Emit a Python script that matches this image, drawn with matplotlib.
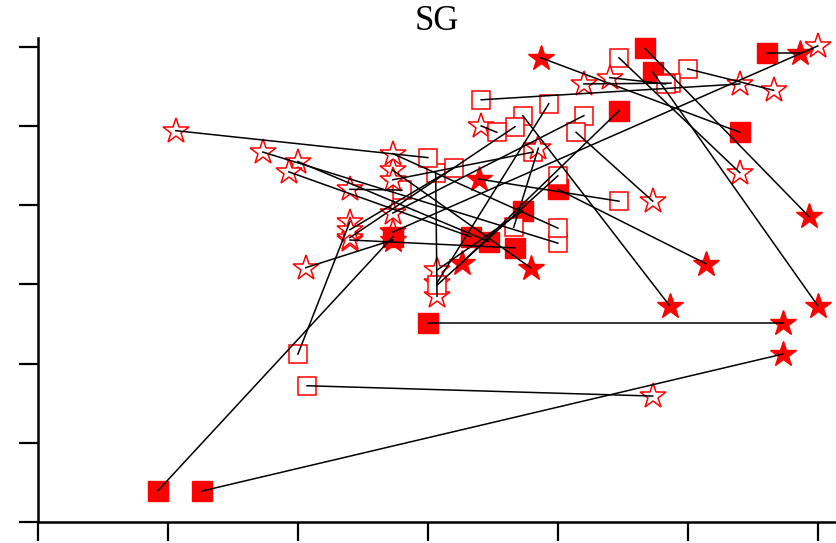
import matplotlib
matplotlib.use("Agg")
import matplotlib.pyplot as plt

# Each segment joins a start state to an end state.
# Kinds: "fs" filled square, "os" open square, "ft" filled star, "ot" open star
x_start = [0.92, 1.26, 2.07, 3.00, 2.00, 2.06, 1.06, 1.73, 2.00, 1.93,
           2.73, 2.40, 2.73, 2.40, 4.20, 2.73, 3.41, 5.00, 3.87, 4.47,
           4.67, 4.73, 3.73, 4.00, 4.14, 3.39, 4.47, 3.93, 3.06, 3.73,
           3.41, 5.61, 4.20, 4.40, 3.67, 3.81, 4.00, 3.20, 3.85]
y_start = [0.39, 0.39, 1.72, 2.51, 2.12, 3.21, 4.94, 4.67, 4.55, 4.42,
           4.44, 4.20, 4.65, 3.56, 5.13, 3.66, 5.33, 5.72, 5.86, 5.86,
           5.98, 5.68, 5.13, 4.20, 4.92, 4.33, 5.19, 5.28, 4.41, 3.93,
           5.00, 5.92, 5.53, 5.61, 4.99, 4.67, 4.37, 4.47, 4.72]
kind_start = ["fs", "fs", "os", "fs", "os", "ot", "ot", "ot", "ot", "ot",
              "ot", "ot", "ot", "ot", "os", "ot", "os", "os", "ft", "os",
              "fs", "fs", "os", "fs", "os", "ft", "fs", "os", "os", "fs",
              "ot", "fs", "ot", "ot", "os", "os", "os", "os", "ot"]

x_end = [2.73, 5.73, 4.73, 5.73, 2.40, 2.73, 3.00, 4.00, 3.47, 3.33,
         3.79, 2.80, 4.00, 3.67, 2.73, 6.00, 5.40, 5.66, 5.40, 5.40,
         5.93, 6.00, 4.86, 5.14, 4.73, 4.47, 3.26, 3.07, 3.07, 3.07,
         3.53, 5.86, 4.87, 4.83, 2.40, 2.73, 3.07, 2.40, 3.66]
y_end = [3.60, 2.12, 1.59, 2.51, 3.79, 3.56, 4.60, 3.52, 3.54, 3.60,
         3.21, 4.19, 3.71, 3.46, 3.90, 6.01, 5.53, 5.45, 4.92, 4.41,
         3.86, 2.73, 2.73, 3.26, 4.05, 4.05, 3.27, 3.02, 2.85, 3.18,
         4.92, 5.92, 5.54, 5.53, 3.59, 4.32, 2.99, 3.69, 3.72]
kind_end = ["fs", "ft", "ot", "ft", "ot", "ft", "os", "os", "fs", "fs",
            "ft", "os", "os", "fs", "ot", "ot", "ot", "ot", "fs", "ot",
            "ft", "ft", "ft", "ft", "ot", "os", "ft", "ot", "ot", "ot",
            "os", "ft", "os", "os", "ot", "ot", "os", "ot", "os"]

tick_positions = [0, 1, 2, 3, 4, 5, 6]

RED = "#ff0000"
styles = {
    "fs": dict(marker="s", markersize=14, markerfacecolor=RED, markeredgecolor=RED, markeredgewidth=1.0),
    "os": dict(marker="s", markersize=13, markerfacecolor="white", markeredgecolor=RED, markeredgewidth=1.1),
    "ft": dict(marker="*", markersize=19, markerfacecolor=RED, markeredgecolor=RED, markeredgewidth=1.0),
    "ot": dict(marker="*", markersize=19, markerfacecolor="white", markeredgecolor=RED, markeredgewidth=1.1),
}

fig = plt.figure(figsize=(8.36, 5.43), dpi=100)
ax = fig.add_axes([38 / 836, 21 / 543, (836 - 38) / 836, (522 - 38) / 543])

points = list(zip(x_start, y_start, kind_start)) + list(zip(x_end, y_end, kind_end))
for x, y, k in points:
    ax.plot([x], [y], linestyle="none", zorder=2, clip_on=False, **styles[k])

for xs, ys, xe, ye in zip(x_start, y_start, x_end, y_end):
    ax.plot([xs, xe], [ys, ye], color="black", linewidth=1.1, zorder=3, clip_on=False)

ax.set_xlim(0, 6.14)
ax.set_ylim(0, 6.11)
ax.set_xticks(tick_positions)
ax.set_yticks(tick_positions)
ax.set_xticklabels([])
ax.set_yticklabels([])
ax.tick_params(direction="out", length=14, width=1.6, color="black")
for side in ("top", "right"):
    ax.spines[side].set_visible(False)
for side in ("left", "bottom"):
    ax.spines[side].set_linewidth(1.8)

ax.set_title("SG", fontsize=25, family=["Liberation Serif", "DejaVu Serif"], pad=2)

fig.savefig("out.png", dpi=100)
